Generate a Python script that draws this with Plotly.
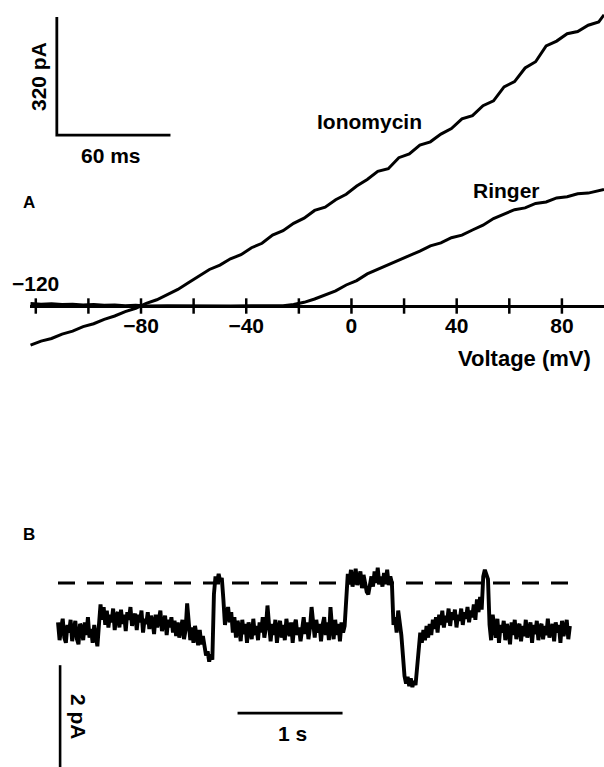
import plotly.graph_objects as go

# ---------------- Panel A: I-V ramps ----------------
ionomycin_mv = [-122, -118, -114, -110, -106, -102, -98, -94, -90, -86, -82, -78, -74, -70,
                -66, -62, -58, -54, -50, -46, -42, -38, -34, -30, -26, -22, -18, -14, -10,
                -6, -2, 2, 6, 10, 14, 18, 22, 26, 30, 34, 38, 42, 46, 50, 54, 58, 62, 66,
                70, 74, 78, 82, 86, 90, 94, 96]
ionomycin_pA = [-106, -95, -88, -76, -68, -56, -48, -36, -27, -15, -6, 7, 17, 32,
                45, 63, 81, 99, 111, 128, 139, 158, 170, 192, 204, 224, 238, 259, 268,
                288, 303, 325, 343, 365, 372, 402, 412, 436, 445, 466, 481, 507, 516, 543,
                556, 594, 608, 645, 662, 705, 718, 738, 744, 761, 770, 789]

ringer_mv = [-122, -118, -114, -110, -106, -102, -98, -94, -90, -86, -82, -78, -70, -62,
             -54, -46, -38, -30, -26, -22, -18, -14, -10, -6, -2, 2, 6, 10, 14, 18, 22,
             26, 30, 34, 38, 42, 46, 50, 54, 58, 62, 66, 70, 74, 78, 82, 86, 90, 94, 96]
ringer_pA = [7, 5, 6, 4, 5, 3, 4, 2, 3, 1, 2, 0, 1, 0,
             1, 0, 1, 0, 1, 4, 10, 19, 31, 41, 57, 69, 87, 99, 113, 123, 137,
             149, 163, 171, 185, 192, 206, 219, 237, 249, 261, 266, 278, 282, 293, 296, 304, 306, 314, 316]

axis_ticks_mv = [-120, -100, -80, -60, -40, -20, 0, 20, 40, 60, 80]
labeled_ticks_mv = [-80, -40, 0, 40, 80]
labeled_ticks_text = ["\u221280", "\u221240", "0", "40", "80"]

scale_a_pA = 320
scale_a_ms = 60
ramp_mv_per_ms = 0.72  # 216 mV ramp over 300 ms

# ---------------- Panel B: single-channel record ----------------
sample_dt_s = 0.015
trace_b_pA = [
    # closed, start
    0.15, -0.20, 0.05, 0.22, -0.15, -0.25, 0.10, -0.05, 0.20, -0.22,
    0.00, 0.18, -0.18, -0.28, 0.12, 0.05, -0.20, 0.15, -0.10, 0.25,
    -0.15, 0.02, -0.25, 0.10, -0.12,
    -0.32, 0.10, 0.50, 0.20, 0.45,
    0.10, 0.38, 0.05, 0.30, 0.15, 0.42, 0.00, 0.28, 0.35, 0.05,
    0.40, 0.12, 0.30, -0.02, 0.35, 0.20, 0.45, 0.08, 0.25, 0.32,
    0.00, 0.30, 0.15, 0.38, -0.05, 0.22, 0.12, 0.35, 0.02, 0.28,
    0.18, -0.08, 0.30, 0.05, 0.20, 0.38, -0.02, 0.15, 0.28, -0.10,
    0.20, 0.05, 0.25, -0.05, 0.18, -0.12,
    0.15, -0.15, 0.05, 0.20, -0.18, 0.00, 0.52, 0.10, -0.20, 0.05,
    -0.25, 0.08, -0.15, -0.30, 0.00, -0.28, -0.12,
    # brief dip then brief opening
    -0.35, -0.50, -0.42, -0.62, -0.48, -0.58,
    0.70, 1.05, 0.92, 1.10, 0.95, 1.02, 0.60,
    0.10, 0.30, 0.45, 0.15, 0.35, -0.05, 0.25,
    -0.15, 0.18, 0.05, -0.22, 0.20, -0.08, 0.12, -0.25, 0.15, 0.02, -0.18, 0.22, -0.10, 0.08,
    -0.20, 0.15, -0.05, 0.25, -0.15, 0.05, 0.48, 0.10, -0.22, 0.12, -0.10, 0.20, -0.25, 0.05,
    0.18, -0.15, 0.10, -0.20, 0.22, 0.00, -0.12, 0.15, -0.25, 0.08, 0.20, -0.10, 0.05, -0.22,
    0.12, 0.25, -0.08, 0.15, -0.18, 0.05, 0.45, 0.15, -0.15, 0.20, -0.05, 0.12, -0.22, 0.10,
    0.25, -0.10, 0.15, -0.20, 0.45, 0.05, -0.18, 0.20, -0.10, 0.12, -0.22, 0.15, -0.05, 0.08,
    # long opening
    0.80, 1.10, 0.90, 1.18, 0.85, 1.05, 1.20, 0.88, 1.00, 1.15,
    0.82, 1.08, 0.92, 0.75, 0.70, 0.95, 1.05, 0.85, 1.15, 0.92,
    1.22, 0.90, 1.05, 0.85, 1.12, 0.95, 1.18, 0.88, 1.05, 0.92,
    0.10, 0.25, -0.05, 0.38, 0.15, -0.10,
    # deep dip
    -0.50, -0.90, -1.05, -0.92, -1.10, -0.95, -1.12, -1.00, -1.08, -0.70,
    # recovery
    -0.30, -0.05, -0.25, 0.00, -0.20, 0.08, -0.15, 0.12, -0.10, 0.20,
    0.02, 0.25, -0.05, 0.30, 0.10, 0.38, 0.05, 0.28, 0.15, 0.42,
    0.08, 0.35, 0.20, 0.40, 0.05, 0.30, 0.18, 0.42, 0.10, 0.35,
    0.22, 0.45, 0.15, 0.38, 0.25, 0.50, 0.20, 0.60, 0.35,
    0.65, 0.40,
    # brief opening
    1.05, 1.18, 1.10, 1.00,
    # closed, end
    0.10, -0.20, 0.30, 0.05, -0.15, 0.22, -0.25, 0.10, -0.05, 0.18, -0.20, 0.12, 0.00, -0.28,
    0.15, -0.10, 0.20, -0.18, 0.05, 0.12, -0.22, 0.08, -0.12, 0.20, -0.15, 0.02,
    0.15, -0.25, 0.10, -0.08, 0.18, -0.20, 0.05, 0.12, -0.18, 0.08, -0.10, 0.22, -0.15, 0.00,
    0.12, -0.22, 0.15, -0.05, 0.10, -0.25, 0.18, -0.12, 0.05, 0.20, -0.18, 0.08,
]
time_b_s = [round(i * sample_dt_s, 4) for i in range(len(trace_b_pA))]
open_level_pA = 0.92
open_line_span_s = [0.0, 4.94]
scale_b_pA = 2
scale_b_s = 1

# ---------------- figure ----------------
W, H = 604, 767
FONT = "Liberation Sans"
BLK = "black"

fig = go.Figure()

# Panel A traces
fig.add_trace(go.Scatter(x=ionomycin_mv, y=ionomycin_pA, mode="lines",
                         line=dict(color=BLK, width=3), xaxis="x", yaxis="y"))
fig.add_trace(go.Scatter(x=ringer_mv, y=ringer_pA, mode="lines",
                         line=dict(color=BLK, width=3), xaxis="x", yaxis="y"))
# tick marks crossing the voltage axis
fig.add_trace(go.Scatter(x=axis_ticks_mv, y=[0] * len(axis_ticks_mv), mode="markers",
                         marker=dict(symbol="line-ns", size=11,
                                     line=dict(width=2.5, color=BLK)),
                         xaxis="x", yaxis="y"))
# scale bars A
bar_x0 = -112.0
bar_y0 = 463
fig.add_trace(go.Scatter(
    x=[bar_x0, bar_x0, bar_x0 + scale_a_ms * ramp_mv_per_ms],
    y=[bar_y0 + scale_a_pA, bar_y0, bar_y0],
    mode="lines", line=dict(color=BLK, width=2.8), xaxis="x", yaxis="y"))

# Panel B traces
fig.add_trace(go.Scatter(x=open_line_span_s, y=[open_level_pA, open_level_pA], mode="lines",
                         line=dict(color=BLK, width=3, dash="17px,12px"),
                         xaxis="x2", yaxis="y2"))
fig.add_trace(go.Scatter(x=time_b_s, y=trace_b_pA, mode="lines",
                         line=dict(color=BLK, width=3.9), xaxis="x2", yaxis="y2"))
# scale bars B
fig.add_trace(go.Scatter(x=[0.02, 0.02], y=[-0.69, -0.69 - scale_b_pA], mode="lines",
                         line=dict(color=BLK, width=2.6), xaxis="x2", yaxis="y2"))
fig.add_trace(go.Scatter(x=[1.71, 1.71 + scale_b_s], y=[-1.63, -1.63], mode="lines",
                         line=dict(color=BLK, width=2.6), xaxis="x2", yaxis="y2"))

tf = dict(family=FONT, size=21, color=BLK, weight="bold")

annotations = [
    dict(x=7.0, y=499, xref="x", yref="y", text="Ionomycin", showarrow=False, font=tf),
    dict(x=59.1, y=314, xref="x", yref="y", text="Ringer", showarrow=False, font=tf),
    dict(x=65.9, y=-141, xref="x", yref="y", text="Voltage (mV)", showarrow=False,
         font=dict(tf, size=22)),
    dict(x=-120, y=0, xref="x", yref="y", yshift=23, text="\u2212120", showarrow=False, font=tf),
    dict(x=-119.2, y=623, xref="x", yref="y", text="320 pA", textangle=-90, showarrow=False, font=tf),
    dict(x=-91.4, y=409, xref="x", yref="y", text="60 ms", showarrow=False, font=tf),
    dict(x=21 / W, y=1 - 191 / H, xref="paper", yref="paper", text="A", showarrow=False,
         font=dict(tf, size=17)),
    dict(x=21 / W, y=1 - 546 / H, xref="paper", yref="paper", text="B", showarrow=False,
         font=dict(tf, size=17)),
    dict(x=2.238, y=-2.02, xref="x2", yref="y2", text="1 s", showarrow=False, font=tf),
    dict(x=0.2, y=-1.706, xref="x2", yref="y2", text="2 pA", textangle=90, showarrow=False, font=tf),
]

fig.update_layout(
    width=W, height=H, margin=dict(l=0, r=0, t=0, b=0),
    paper_bgcolor="white", plot_bgcolor="white", showlegend=False,
    xaxis=dict(domain=[30 / W, 1], range=[-122.2, 96.0], anchor="free",
               position=1 - 306 / H, showline=True, linecolor=BLK, linewidth=3,
               showgrid=False, zeroline=False, ticks="",
               tickvals=labeled_ticks_mv, ticktext=labeled_ticks_text,
               tickfont=tf, ticklabelstandoff=0),
    yaxis=dict(domain=[1 - 400 / H, 1], range=[-254.7, 829.3], visible=False),
    xaxis2=dict(domain=[0, 1], range=[-58 / 105, (W - 58) / 105], visible=False),
    yaxis2=dict(domain=[0, 1 - 430 / H], range=[(630 - 767) / 51, (630 - 430) / 51],
                visible=False),
    annotations=annotations,
)

fig.write_html("out.html")
